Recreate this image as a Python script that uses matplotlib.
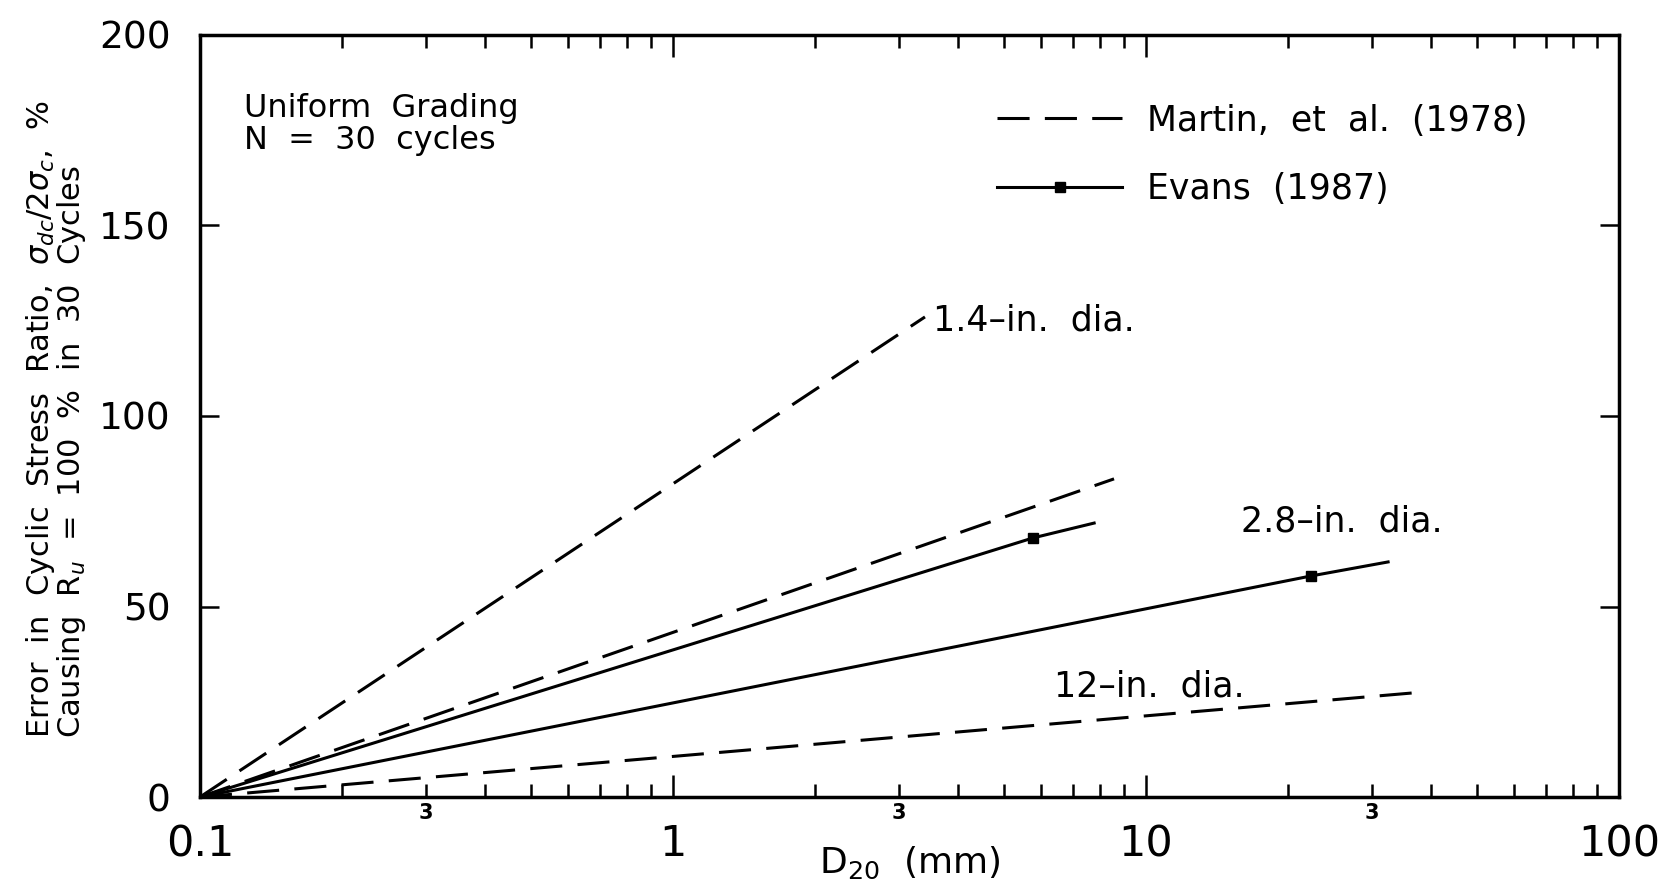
import numpy as np
import matplotlib
matplotlib.use('Agg')
import matplotlib.pyplot as plt
from matplotlib.lines import Line2D
from matplotlib.ticker import LogLocator, FuncFormatter

plt.rcParams['font.family'] = ['DejaVu Sans']

# Martin, et al. (1978) - dashed lines (start, end)
martin_names = ['1.4-in', '2.8-in', '12-in']
martin_d20 = [[0.1, 3.41], [0.1, 8.56], [0.1, 36.5]]
martin_err = [[0, 126.0], [0, 83.5], [0, 27.3]]

# Evans (1987) - solid lines (start, marked point, end)
evans_names = ['1.4-in', '2.8-in']
evans_d20 = [[0.1, 5.77, 7.77], [0.1, 22.3, 32.5]]
evans_err = [[0, 68.0, 71.9], [0, 58.0, 61.7]]

legend_labels = ['Martin,  et  al.  (1978)', 'Evans  (1987)']
x_tick_values = [0.1, 1, 10, 100]
x_tick_labels = ['0.1', '1', '10', '100']
y_tick_values = [0, 50, 100, 150, 200]

lw = 2.2
dash = (10.5, 5)

fig = plt.figure(figsize=(16.61, 8.85), dpi=100)
ax = fig.add_axes([0.1204, 0.0994, 0.8543, 0.8611])

for xs, ys in zip(martin_d20, martin_err):
    ax.plot(xs, ys, color='black', lw=lw, dashes=dash)

for xs, ys in zip(evans_d20, evans_err):
    ax.plot(xs, ys, color='black', lw=lw, marker='s', ms=7.5, markevery=[1])

ax.set_xscale('log')
ax.set_xlim(0.1, 100)
ax.set_ylim(0, 200)

ax.set_xticks(x_tick_values, x_tick_labels)
ax.xaxis.set_minor_locator(LogLocator(base=10, subs=range(2, 10), numticks=10))


def minor_label(v, pos):
    m = v / 10 ** np.floor(np.log10(v) + 1e-9)
    return '3' if abs(m - 3) < 0.01 else ''


ax.xaxis.set_minor_formatter(FuncFormatter(minor_label))
ax.set_yticks(y_tick_values)

ax.tick_params(axis='x', which='major', direction='in', length=16, width=1.8,
               top=True, labelsize=31, pad=19)
ax.tick_params(axis='x', which='minor', direction='in', length=9.5, width=1.8,
               top=True, labelsize=15, pad=4)
ax.tick_params(axis='y', which='major', direction='in', length=14, width=1.8,
               right=True, labelsize=27, pad=21)
for lab in ax.xaxis.get_minorticklabels():
    lab.set_fontweight('bold')

for s in ax.spines.values():
    s.set_linewidth(2.5)

ax.set_xlabel(r'D$_{20}$  (mm)', fontsize=26)
ax.xaxis.set_label_coords(0.5, -0.063)

# y label, two lines
ylabel_lines = [r'Error  in  Cyclic  Stress  Ratio,  $\sigma_{dc}/2\sigma_c$,  %',
                r'Causing  R$_u$  =  100  %  in  30  Cycles']
fig.text(56 / 1661, 0.166, '\n'.join(ylabel_lines), rotation=90, ha='center',
         va='bottom', multialignment='left', fontsize=22, linespacing=0.95)

ax.text(0.031, 0.924, 'Uniform  Grading\nN  =  30  cycles', transform=ax.transAxes,
        ha='left', va='top', fontsize=23, linespacing=1.05)

ax.text(3.55, 125, '1.4–in.  dia.', ha='left', va='center', fontsize=25)
ax.text(15.9, 72.2, '2.8–in.  dia.', ha='left', va='center', fontsize=25)
ax.text(6.4, 29.1, '12–in.  dia.', ha='left', va='center', fontsize=25)

handles = [Line2D([], [], color='black', lw=lw, dashes=dash),
           Line2D([], [], color='black', lw=lw, marker='s', ms=7.5)]
ax.legend(handles, legend_labels, loc='upper left', bbox_to_anchor=(0.562, 0.91),
          frameon=False, fontsize=25, handlelength=3.6, handletextpad=0.7,
          labelspacing=1.0, borderpad=0, borderaxespad=0)

fig.savefig('out.png', dpi=100)
